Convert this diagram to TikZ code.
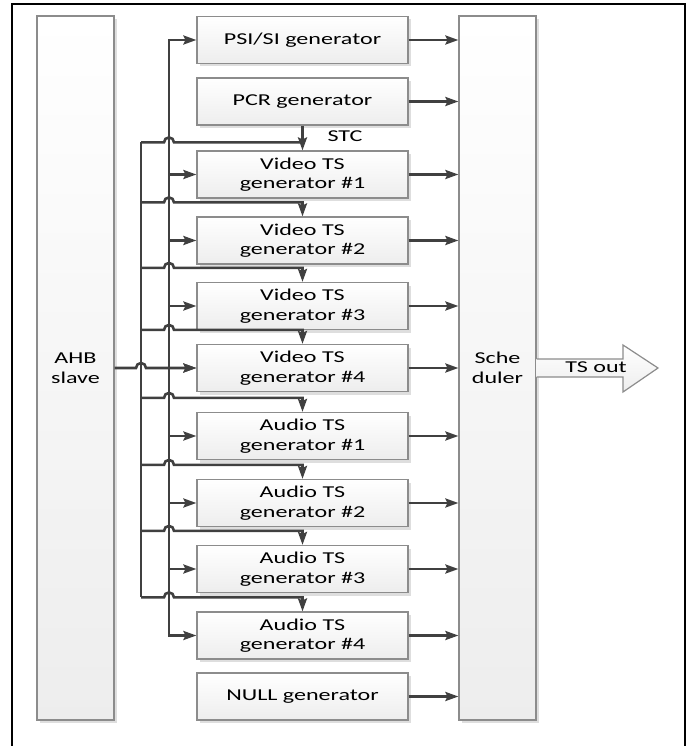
\documentclass[tikz,border=0pt]{standalone}
\usepackage{fontspec}
\setmainfont{Carlito}[FakeStretch=1.45]
\usetikzlibrary{arrows.meta,shadows}
\definecolor{wiregray}{HTML}{404040}
\definecolor{boxgray}{HTML}{8C8C8C}

\begin{document}
\begin{tikzpicture}[x=1pt,y=-1pt,
        font=\fontsize{16.6}{19.5}\selectfont,
        blk/.style={draw=boxgray, line width=1.2pt, top color=white, bottom color=gray!14,
            align=center, inner sep=0pt,
            drop shadow={shadow xshift=3pt, shadow yshift=-3pt, fill=black!13, opacity=1}},
        gen/.style={blk, minimum width=211pt, minimum height=47pt},
        wire/.style={draw=wiregray, line width=2.6pt},
        arr/.style={wire, -{Stealth[length=13pt,width=9pt,inset=2pt]}}]
        \useasboundingbox (0,0) rectangle (690,746);
        \draw [line width=2pt] (12,746) -- (12,4) -- (685,4) -- (685,746);
        % side blocks
        \node [blk, minimum width=77pt, minimum height=704pt] (ahb) at (75.5,368) {AHB\\slave};
        \node [blk, minimum width=77pt, minimum height=704pt] (sched) at (497.5,368) {Sche\\duler};
        % generators
        \node [gen] (psi) at (302.5,40) {PSI/SI generator};
        \node [gen] (pcr) at (302.5,101.5) {PCR generator};
        \node [gen] (v1) at (302.5,174.5) {Video TS\\generator \#1};
        \node [gen] (v2) at (302.5,240.5) {Video TS\\generator \#2};
        \node [gen] (v3) at (302.5,306) {Video TS\\generator \#3};
        \node [gen] (v4) at (302.5,368) {Video TS\\generator \#4};
        \node [gen] (a1) at (302.5,436) {Audio TS\\generator \#1};
        \node [gen] (a2) at (302.5,503) {Audio TS\\generator \#2};
        \node [gen] (a3) at (302.5,569) {Audio TS\\generator \#3};
        \node [gen] (a4) at (302.5,635.5) {Audio TS\\generator \#4};
        \node [gen] (null) at (302.5,696.5) {NULL generator};
        \foreach \n in {psi,pcr,v1,v2,v3,v4,a1,a2,a3,a4,null}
            \draw [arr] (\n.east) -- (\n.east -| sched.west);
        % buses
        \coordinate (lbus) at (141,0);
        \coordinate (rbus) at (169,0);
        \draw [arr, {Stealth[length=13pt,width=9pt,inset=2pt]}-{Stealth[length=13pt,width=9pt,inset=2pt]}]
            (psi.west) -- (rbus |- psi.west) -- (rbus |- a4.west) -- (a4.west);
        \foreach \n in {v1,v2,v3,v4,a1,a2,a3}
            \draw [arr] (rbus |- \n.west) -- (\n.west);
        \draw [arr] (ahb.east |- v4.west) -- ([xshift=-5pt]lbus |- v4.west)
            arc [start angle=180, end angle=0, radius=5pt] -- (v4.west);
        % STC
        \coordinate (stc) at ([yshift=8pt]v1.north);
        \draw [arr] (pcr.south) -- (v1.north);
        \draw [wire] (lbus |- stc) -- ([xshift=-5pt]rbus |- stc)
            arc [start angle=180, end angle=0, radius=5pt] -- (stc);
        \node (stclabel) at (345,136) {STC};
        \foreach \n in {v2,v3,v4,a1,a2,a3,a4} {
            \coordinate (br-\n) at ([yshift=14pt]\n.north);
            \draw [arr] (lbus |- br-\n) -- ([xshift=-5pt]rbus |- br-\n)
                arc [start angle=180, end angle=0, radius=5pt] -- (br-\n) -- (\n.north);
        }
        \draw [wire] (lbus |- stc) -- (lbus |- br-a4);
        % TS out
        \draw [draw=boxgray, line width=1.2pt, top color=white, bottom color=gray!14]
            (sched.east |- 0,359) -- (623,359) -- (623,345) -- (658,368) -- (623,392) -- (623,377) -- (sched.east |- 0,377);
        \node (tsout) at (596,367) {TS out};
    \end{tikzpicture}
\end{document}
